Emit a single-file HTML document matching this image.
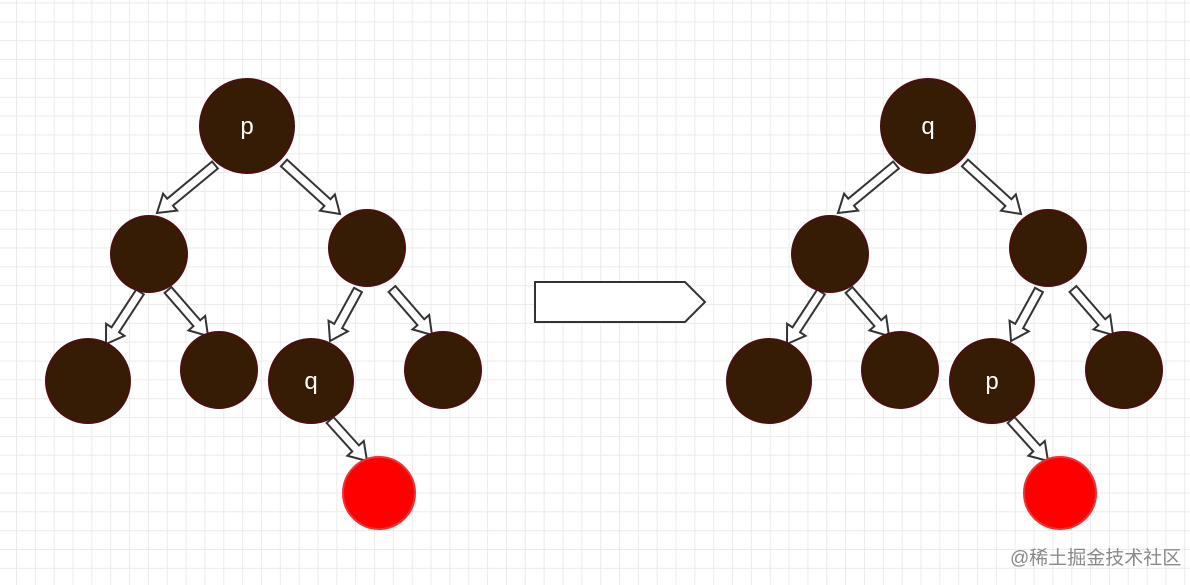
<!DOCTYPE html>
<html><head><meta charset="utf-8"><style>
html,body{margin:0;padding:0;background:#fff;}
body{width:1190px;height:585px;overflow:hidden;position:relative;
background-image:linear-gradient(#ebebeb 1px,transparent 1px),linear-gradient(90deg,#ebebeb 1px,transparent 1px);
background-size:18.85px 18.85px;background-position:16px 2.5px;}
svg{position:absolute;left:0;top:0;}
text{font-family:"Liberation Sans",sans-serif;}
.wm{position:absolute;left:1010px;top:543px;font:19px "Liberation Sans","Noto Sans CJK SC",sans-serif;color:#8a8a8a;}
</style></head><body>
<svg id="s" width="1190" height="585" xmlns="http://www.w3.org/2000/svg">
<polygon points="535,282 685,282 705,302 685,322 535,322" fill="#fff" stroke="#333" stroke-width="2"/>
</svg>
<div class="wm">@稀土掘金技术社区</div>
<script>
var s=document.getElementById('s'),NS='http://www.w3.org/2000/svg';
function el(t,a,txt){var e=document.createElementNS(NS,t);for(var k in a)e.setAttribute(k,a[k]);if(txt)e.textContent=txt;s.appendChild(e);}
function arrow(x1,y1,x2,y2){var dx=x2-x1,dy=y2-y1,L=Math.hypot(dx,dy),ux=dx/L,uy=dy/L,nx=-uy,ny=ux;
var sw=4.5,hw=11,hl=17,bx=x2-ux*hl,by=y2-uy*hl;
var p=[[x1+nx*sw,y1+ny*sw],[bx+nx*sw,by+ny*sw],[bx+nx*hw,by+ny*hw],[x2,y2],[bx-nx*hw,by-ny*hw],[bx-nx*sw,by-ny*sw],[x1-nx*sw,y1-ny*sw]];
el('polygon',{points:p.map(function(q){return q.join(',')}).join(' '),fill:'#fff',stroke:'#333','stroke-width':2});}
function tree(o,a,b){
 arrow(215+o,165,157+o,213);arrow(284+o,163,340+o,214);
 arrow(140+o,292,106+o,344);arrow(168+o,290,208+o,336);
 arrow(358+o,290,330+o,341);arrow(392+o,289,432+o,335);
 arrow(330+o,420,367+o,461);
 var n=[[247,126,47,a],[149,254,38],[367,248,38],[88,381,42],[219,370,38],[311,381,42,b],[443,370,38]];
 n.forEach(function(c){el('circle',{cx:c[0]+o,cy:c[1],r:c[2],fill:'#361c05',stroke:'#4a0f0f','stroke-width':2});
  if(c[3])el('text',{x:c[0]+o,y:c[1]+8,'text-anchor':'middle','font-size':24,fill:'#fff'},c[3]);});
 el('circle',{cx:379+o,cy:493,r:36,fill:'#ff0000',stroke:'#ee3333','stroke-width':2});
}
tree(0,'p','q');tree(681,'q','p');
</script>
</body></html>
